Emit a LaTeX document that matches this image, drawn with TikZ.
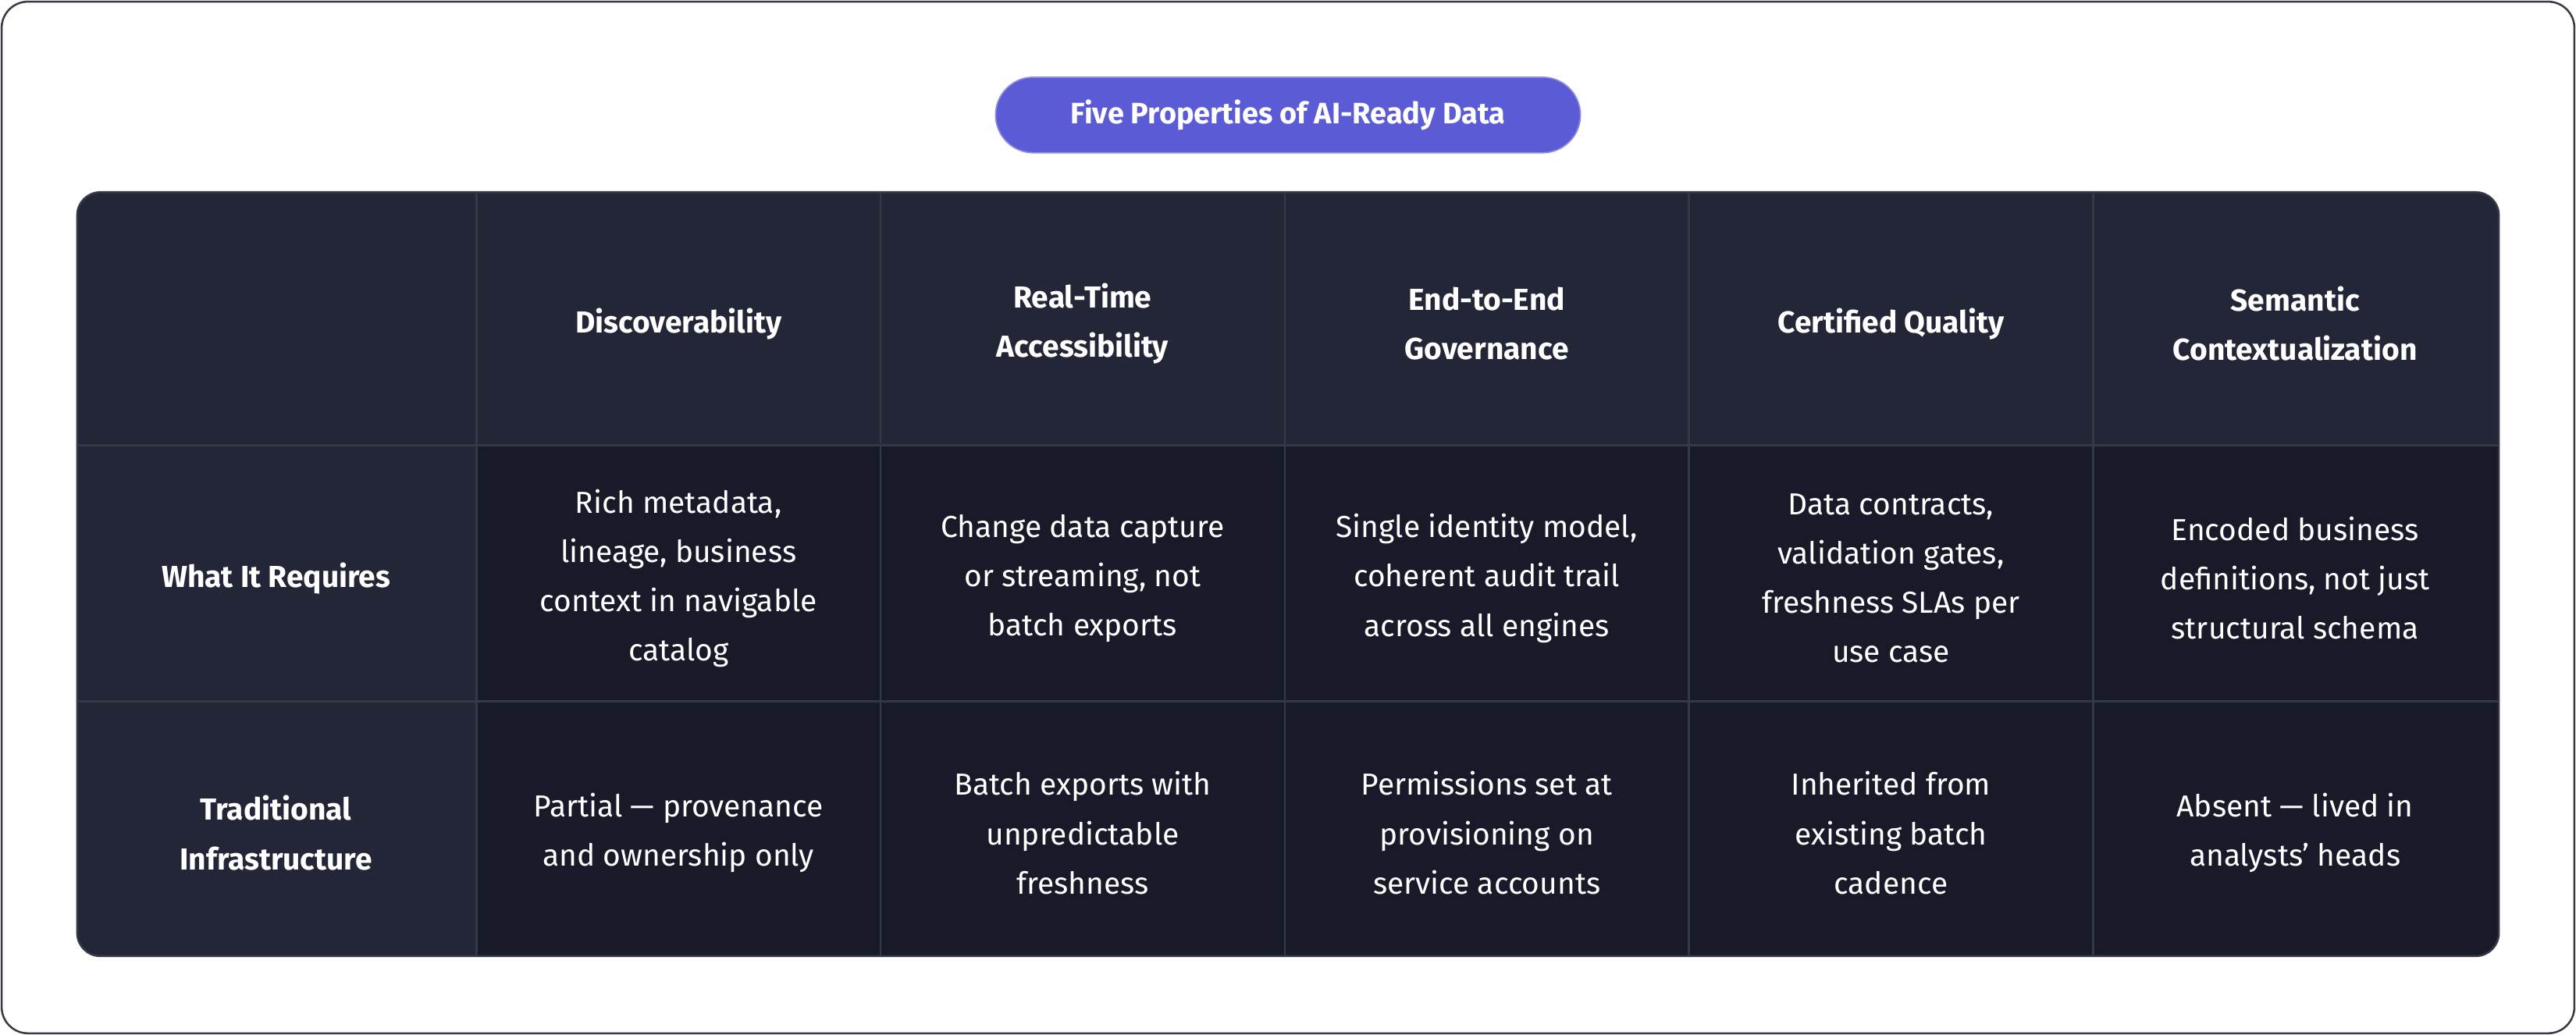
\documentclass[tikz,border=0pt]{standalone}
\usepackage{fontspec}
\setmainfont{Fira Sans}
\definecolor{pill}{HTML}{5B5BD6}
\definecolor{hdr}{HTML}{232636}
\definecolor{body}{HTML}{181A2A}
\definecolor{grid}{HTML}{353846}
\definecolor{frame}{HTML}{3A3A44}
\begin{document}
\begin{tikzpicture}[x=1pt,y=-1pt,
 cell/.style={align=center,text=white,font=\fontsize{18.5}{30}\selectfont,inner sep=0pt},
 head/.style={cell,font=\fontsize{18.5}{30}\selectfont\bfseries}]
\useasboundingbox (0,0) rectangle (1568,630);
\draw[frame,line width=1.2pt,rounded corners=16] (1,1) rectangle (1567,629);
\node[fill=pill,draw=pill!70!white,line width=0.8pt,rounded corners=23,minimum width=356,minimum height=46,text=white,font=\fontsize{18}{20}\selectfont\bfseries,inner sep=0pt] (title) at (784,70) {Five Properties of AI-Ready Data};
\fill[body,rounded corners=14] (47,117) rectangle (1521,582);
\begin{scope}
\clip[rounded corners=14] (47,117) rectangle (1521,582);
\fill[hdr] (47,117) rectangle (1521,271);
\fill[hdr] (47,117) rectangle (290,582);
\foreach \x in {290,536,782,1028,1274} \draw[grid,line width=1.2pt] (\x,117) -- (\x,582);
\foreach \y in {271,427} \draw[grid,line width=1.2pt] (47,\y) -- (1521,\y);
\end{scope}
\draw[grid,line width=1.2pt,rounded corners=14] (47,117) rectangle (1521,582);
\node[head] (h1) at (413,197) {Discoverability};
\node[head] (h2) at (659,197) {Real-Time\\Accessibility};
\node[head] (h3) at (905,197) {End-to-End\\Governance};
\node[head] (h4) at (1151,197) {Certified Quality};
\node[head] (h5) at (1397,197) {Semantic\\Contextualization};
\node[head] (r1) at (168,352) {What It Requires};
\node[head] (r2) at (168,507) {Traditional\\Infrastructure};
\node[cell] (c11) at (413,352) {Rich metadata,\\lineage, business\\context in navigable\\catalog};
\node[cell] (c12) at (659,352) {Change data capture\\or streaming, not\\batch exports};
\node[cell] (c13) at (905,352) {Single identity model,\\coherent audit trail\\across all engines};
\node[cell] (c14) at (1151,352) {Data contracts,\\validation gates,\\freshness SLAs per\\use case};
\node[cell] (c15) at (1397,352) {Encoded business\\definitions, not just\\structural schema};
\node[cell] (c21) at (413,507) {Partial — provenance\\and ownership only};
\node[cell] (c22) at (659,507) {Batch exports with\\unpredictable\\freshness};
\node[cell] (c23) at (905,507) {Permissions set at\\provisioning on\\service accounts};
\node[cell] (c24) at (1151,507) {Inherited from\\existing batch\\cadence};
\node[cell] (c25) at (1397,507) {Absent — lived in\\analysts' heads};
\end{tikzpicture}
\end{document}
